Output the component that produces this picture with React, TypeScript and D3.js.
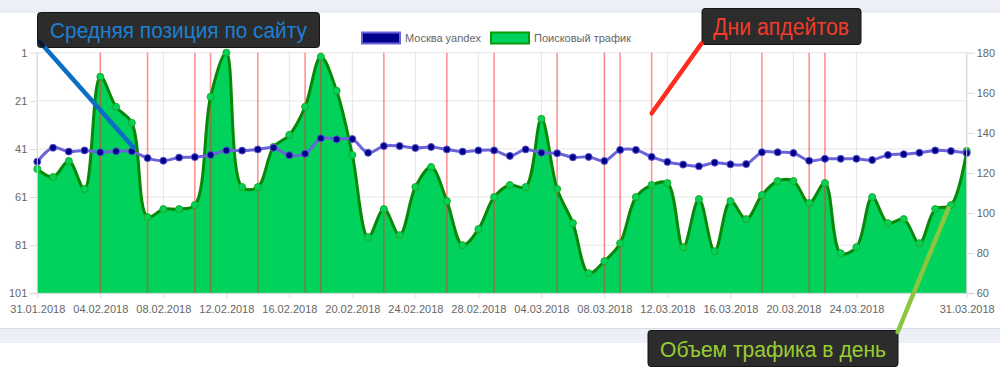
import { useEffect, useRef } from 'react'
import * as d3 from 'd3'

// 31.01.2018 .. 31.03.2018, one value per day
const firstDay = '31.01.2018'
const lastDay = '31.03.2018'

const positions = [
  46.3, 40.5, 42.1, 41.6, 42.4, 42, 42, 44.8, 45.9, 44.6, 44.4, 43.5, 41.6, 41.7,
  41.2, 40.5, 43.6, 43, 36.6, 37, 36.9, 42.6, 39.8, 39.8, 40.6, 40.2, 41.2, 42.1,
  41.6, 41.6, 43.9, 41.2, 42.6, 42.8, 44.5, 44.3, 46, 41.4, 41.4, 44.3, 46.4, 47.5,
  48.2, 46.7, 47.4, 47.3, 42.4, 42.4, 42.7, 45.9, 45.1, 45.1, 45.1, 45.6, 43.5,
  43.2, 42.6, 41.6, 41.9, 42.7,
]

const traffic = [
  122, 118, 126, 112, 168, 153, 145, 98, 102, 102, 104, 158, 180, 113, 113, 133,
  139, 153, 178, 161, 129, 88, 102, 89, 113, 123, 106, 84, 92, 108, 114, 113, 147,
  112, 95, 70, 76, 85, 108, 114, 115, 83, 107, 81, 106, 97, 109, 116, 116, 105, 115,
  80, 83, 108, 95, 97, 85, 102, 104, 131,
]

const updateDays = [
  '04.02.2018', '07.02.2018', '10.02.2018', '11.02.2018', '14.02.2018',
  '17.02.2018', '18.02.2018', '22.02.2018', '26.02.2018', '01.03.2018',
  '05.03.2018', '08.03.2018', '09.03.2018', '11.03.2018', '18.03.2018',
  '21.03.2018', '22.03.2018',
]

const xTickLabels = [
  '31.01.2018', '04.02.2018', '08.02.2018', '12.02.2018', '16.02.2018',
  '20.02.2018', '24.02.2018', '28.02.2018', '04.03.2018', '08.03.2018',
  '12.03.2018', '16.03.2018', '20.03.2018', '24.03.2018', '31.03.2018',
]
const positionTicks = [1, 21, 41, 61, 81, 101]
const trafficTicks = [60, 80, 100, 120, 140, 160, 180]

const legendLabels = ['Москва yandex', 'Поисковый трафик']
const notePosition = 'Средняя позиция по сайту'
const noteUpdates = 'Дни апдейтов'
const noteTraffic = 'Объем трафика в день'

const width = 1000
const height = 373
const font = '"Liberation Sans", Arial, Helvetica, sans-serif'

const Chart = () => {
  const svgRef = useRef(null)

  useEffect(() => {
    const parse = d3.timeParse('%d.%m.%Y')
    const fmt = d3.timeFormat('%d.%m.%Y')
    const days = d3.timeDay.range(parse(firstDay), d3.timeDay.offset(parse(lastDay), 1))

    const left = 37.3
    const right = 966.7
    const top = 52.7
    const bottom = 293.3

    const x = d3.scaleTime([parse(firstDay), parse(lastDay)], [left, right])
    const yPos = d3.scaleLinear([1, 101], [top, bottom])
    const yTr = d3.scaleLinear([60, 180], [bottom, top])

    const svg = d3.select(svgRef.current)
    svg.selectAll('*').remove()

    // page frame
    svg.append('rect').attr('width', width).attr('height', height).attr('fill', '#fff')
    svg.append('rect').attr('width', width).attr('height', 12).attr('fill', '#eceff6')
    svg.append('line').attr('x1', 0).attr('x2', width).attr('y1', 12).attr('y2', 12)
      .attr('stroke', '#dfe3ec')
    svg.append('rect').attr('y', 328).attr('width', width).attr('height', 15).attr('fill', '#eceff6')
    svg.append('line').attr('x1', 0).attr('x2', width).attr('y1', 328.5).attr('y2', 328.5)
      .attr('stroke', '#d9dee8')

    // grid
    const grid = svg.append('g').attr('stroke', '#e6e6e6').attr('stroke-width', 1)
    grid.selectAll('line.h')
      .data(positionTicks)
      .join('line')
      .attr('x1', left).attr('x2', right)
      .attr('y1', (d) => yPos(d)).attr('y2', (d) => yPos(d))
    grid.selectAll('line.v')
      .data(xTickLabels.map(parse))
      .join('line')
      .attr('class', 'v')
      .attr('x1', (d) => x(d)).attr('x2', (d) => x(d))
      .attr('y1', top).attr('y2', bottom)

    // traffic area
    const curve = d3.curveCatmullRom.alpha(0.5)
    const area = d3.area()
      .x((d, i) => x(days[i]))
      .y0(bottom)
      .y1((d) => yTr(d))
      .curve(curve)
    const trafficLine = d3.line()
      .x((d, i) => x(days[i]))
      .y((d) => yTr(d))
      .curve(curve)
    svg.append('path').datum(traffic).attr('d', area).attr('fill', '#00d25b')

    // update days
    svg.append('g')
      .selectAll('line')
      .data(updateDays.map(parse))
      .join('line')
      .attr('x1', (d) => x(d)).attr('x2', (d) => x(d))
      .attr('y1', top).attr('y2', bottom)
      .attr('stroke', 'rgba(255,40,40,0.5)')
      .attr('stroke-width', 1.6)

    svg.append('path').datum(traffic).attr('d', trafficLine)
      .attr('fill', 'none').attr('stroke', '#088808').attr('stroke-width', 3)
    svg.append('g')
      .selectAll('circle')
      .data(traffic)
      .join('circle')
      .attr('cx', (d, i) => x(days[i]))
      .attr('cy', (d) => yTr(d))
      .attr('r', 3.5)
      .attr('fill', '#00d25b')
      .attr('stroke', '#22a822')
      .attr('stroke-width', 1)

    // position line
    const posLine = d3.line()
      .x((d, i) => x(days[i]))
      .y((d) => yPos(d))
      .curve(curve)
    svg.append('path').datum(positions).attr('d', posLine)
      .attr('fill', 'none').attr('stroke', '#6c62da').attr('stroke-width', 3)
    svg.append('g')
      .selectAll('circle')
      .data(positions)
      .join('circle')
      .attr('cx', (d, i) => x(days[i]))
      .attr('cy', (d) => yPos(d))
      .attr('r', 3.5)
      .attr('fill', '#00008b')
      .attr('stroke', '#5a55cc')
      .attr('stroke-width', 1)

    // axes
    const styleAxis = (g) => {
      g.select('.domain').remove()
      g.selectAll('.tick line').attr('stroke', '#dcdcdc')
      g.selectAll('.tick text').attr('fill', '#666').style('font-size', '11px').style('font-family', font)
    }
    svg.append('g')
      .attr('transform', `translate(${left},0)`)
      .call(d3.axisLeft(yPos).tickValues(positionTicks).tickSize(8).tickPadding(2))
      .call(styleAxis)
    svg.append('g')
      .attr('transform', `translate(${right},0)`)
      .call(d3.axisRight(yTr).tickValues(trafficTicks).tickSize(8).tickPadding(2))
      .call(styleAxis)
    svg.append('g')
      .attr('transform', `translate(0,${bottom})`)
      .call(d3.axisBottom(x).tickValues(xTickLabels.map(parse)).tickFormat(fmt).tickSize(5).tickPadding(6.5))
      .call(styleAxis)
    // plot borders
    svg.append('g').attr('stroke', '#d6d6d6')
      .call((g) => g.append('line').attr('x1', left).attr('x2', left).attr('y1', top).attr('y2', bottom))
      .call((g) => g.append('line').attr('x1', right).attr('x2', right).attr('y1', top).attr('y2', bottom))
      .call((g) => g.append('line').attr('x1', left - 8).attr('x2', right + 8).attr('y1', bottom).attr('y2', bottom))

    // legend
    const legend = svg.append('g').style('font-family', font).style('font-size', '11px')
    const legendItems = [
      { x: 361, label: legendLabels[0], fill: '#00008b', stroke: '#6c62da' },
      { x: 490, label: legendLabels[1], fill: '#00d25b', stroke: '#0a9a0a' },
    ]
    legendItems.forEach((it) => {
      legend.append('rect').attr('x', it.x + 1).attr('y', 32.5).attr('width', 38).attr('height', 11)
        .attr('fill', it.fill).attr('stroke', it.stroke).attr('stroke-width', 2)
      legend.append('text').attr('x', it.x + 44).attr('y', 42).attr('fill', '#666').text(it.label)
    })

    // annotations
    const note = (bx, by, bw, bh, tx, ty, txt, color, size, tw) => {
      svg.append('rect').attr('x', bx).attr('y', by).attr('width', bw).attr('height', bh)
        .attr('rx', 3).attr('fill', '#2c2c2c').attr('stroke', '#151515').attr('stroke-width', 1)
      svg.append('text').attr('x', tx).attr('y', ty).attr('fill', color)
        .attr('textLength', tw).attr('lengthAdjust', 'spacingAndGlyphs')
        .style('font-family', font).style('font-size', `${size}px`).text(txt)
    }
    note(37.5, 12.5, 282, 35, 50, 37.5, notePosition, '#1c80d2', 21.5, 257)
    svg.append('line').attr('x1', 39.5).attr('y1', 41.5).attr('x2', 133.3).attr('y2', 147.3)
      .attr('stroke', '#0a6fc4').attr('stroke-width', 4.5).attr('stroke-linecap', 'round')
    svg.append('line').attr('x1', 39.5).attr('y1', 41.5).attr('x2', 43).attr('y2', 45.5)
      .attr('stroke', '#0b1630').attr('stroke-width', 4.5).attr('stroke-linecap', 'round')

    note(702, 8.5, 159, 36, 713, 34.5, noteUpdates, '#f23b2b', 23, 136)
    svg.append('line').attr('x1', 701.5).attr('y1', 43.5).attr('x2', 651.7).attr('y2', 113.3)
      .attr('stroke', '#ff2b1c').attr('stroke-width', 4.5).attr('stroke-linecap', 'round')

    note(648, 330.5, 250, 36, 660, 357, noteTraffic, '#9acd32', 21.5, 226)
    svg.append('line').attr('x1', 897.7).attr('y1', 332).attr('x2', 948.3).attr('y2', 208.3)
      .attr('stroke', '#8cc63f').attr('stroke-width', 4.5).attr('stroke-linecap', 'round')
  }, [])

  return (
    <svg
      ref={svgRef}
      width={width}
      height={height}
      style={{ position: 'absolute', left: 0, top: 0 }}
    />
  )
}

export default function App() {
  return <Chart />
}
